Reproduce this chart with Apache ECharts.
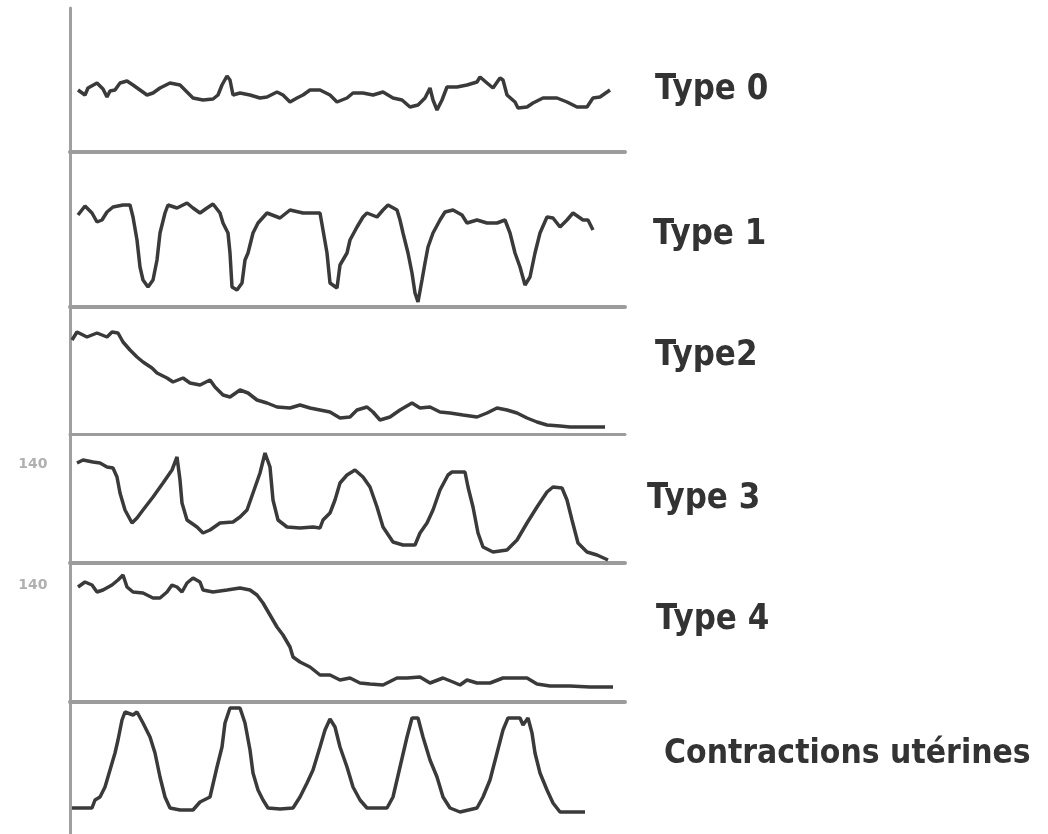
<!DOCTYPE html>
<html>
<head>
<meta charset="utf-8">
<script src="https://cdn.jsdelivr.net/npm/echarts@6/dist/echarts.min.js"></script>
<style>
html,body{margin:0;padding:0;background:#fff;}
#chart{width:1048px;height:834px;}
</style>
</head>
<body>
<div id="chart"></div>
<script>
// ---- data: [time, amplitude] ----
var type0 = [[8,62],[15,57],[18,64],[27,69],[33,63],[37,55],[40,61],[45,62],[50,69],[57,71],[63,67],[70,62],[77,57],[83,59],[90,64],[100,69],[110,67],[117,60],[123,54],[133,52],[143,53],[148,57],[152,67],[157,76],[160,72],[163,57],[170,59],[180,57],[190,54],[197,55],[207,60],[213,57],[220,50],[227,54],[233,57],[240,62],[250,62],[260,57],[267,50],[277,54],[283,59],[293,59],[303,57],[313,60],[323,54],[332,52],[340,45],[348,47],[355,54],[360,64],[363,52],[367,42],[372,52],[377,65],[387,65],[397,67],[407,70],[410,75],[417,69],[423,64],[430,74],[433,72],[437,57],[445,50],[448,44],[457,45],[463,49],[473,54],[487,54],[497,50],[507,45],[517,45],[523,54],[530,55],[540,62]];
var type1 = [[8,92],[15,101],[22,94],[27,85],[32,87],[37,95],[43,100],[53,102],[60,102],[63,90],[67,67],[70,40],[73,27],[78,20],[83,27],[87,47],[90,74],[95,94],[98,102],[107,99],[117,104],[123,99],[130,94],[137,99],[143,103],[150,94],[153,84],[158,74],[160,54],[162,20],[167,17],[172,24],[175,47],[178,54],[183,74],[188,84],[197,94],[210,89],[220,97],[233,94],[250,94],[253,77],[257,54],[260,24],[267,19],[270,42],[277,54],[280,67],[287,80],[293,90],[297,94],[307,90],[313,97],[318,102],[327,97],[330,87],[333,74],[338,54],[342,34],[345,14],[348,5],[352,27],[355,44],[358,60],[363,74],[370,87],[375,95],[383,97],[392,92],[397,84],[407,87],[417,84],[427,84],[435,87],[440,74],[445,54],[450,40],[455,22],[460,30],[465,54],[470,74],[477,90],[483,89],[490,80],[497,87],[503,94],[513,87],[518,87],[523,77]];
var type2 = [[2,94],[7,102],[17,97],[27,101],[37,97],[42,102],[48,101],[53,92],[60,84],[67,77],[73,72],[82,66],[87,61],[97,56],[103,52],[113,56],[120,51],[130,49],[140,54],[145,47],[153,39],[160,37],[170,44],[178,41],[187,34],[197,31],[207,27],[220,26],[230,29],[240,26],[250,24],[260,22],[270,16],[280,17],[287,24],[297,27],[303,22],[310,14],[320,17],[330,24],[342,31],[350,26],[360,27],[370,22],[380,21],[393,19],[407,17],[417,21],[427,26],[437,24],[447,21],[457,16],[467,12],[477,9],[490,8],[500,7],[513,7],[527,7],[535,7]];
var type3 = [[7,100],[13,103],[23,101],[30,100],[37,96],[43,95],[47,86],[50,70],[55,53],[62,40],[67,45],[73,53],[83,66],[93,80],[102,93],[107,106],[110,83],[112,60],[117,43],[127,36],[133,30],[140,33],[150,40],[163,41],[170,46],[177,53],[183,70],[190,90],[195,110],[200,96],[203,63],[208,43],[217,36],[230,35],[243,36],[250,35],[253,43],[260,50],[265,63],[270,80],[277,88],[285,93],[293,86],[300,76],[307,56],[313,36],[323,21],[333,18],[345,18],[350,30],[357,40],[363,53],[370,73],[378,88],[382,91],[395,91],[398,76],[403,56],[408,30],[413,16],[423,11],[437,13],[447,23],[457,40],[467,56],[477,71],[483,76],[492,75],[497,63],[502,43],[508,20],[517,11],[527,8],[538,3]];
var type4 = [[8,115],[15,120],[22,117],[27,110],[33,112],[42,117],[48,122],[53,127],[57,115],[63,110],[73,109],[83,104],[90,104],[97,110],[102,117],[107,115],[112,110],[117,119],[123,124],[130,120],[133,112],[143,110],[157,112],[170,114],[180,112],[187,107],[193,99],[200,87],[207,75],[213,67],[220,55],[223,45],[230,40],[240,35],[250,27],[260,27],[270,22],[280,24],[290,19],[300,18],[313,17],[327,24],[337,24],[350,25],[360,19],[373,24],[383,20],[390,17],[397,22],[407,19],[420,19],[433,24],[447,24],[457,24],[467,18],[480,16],[500,16],[520,15],[543,15]];
var contractions = [[2,26],[22,26],[25,34],[30,37],[35,47],[40,64],[45,81],[48,94],[52,114],[55,122],[63,119],[67,122],[73,111],[80,97],[85,81],[90,57],[95,37],[100,26],[110,24],[123,24],[130,32],[140,37],[147,67],[152,87],[155,111],[160,126],[170,126],[175,111],[180,84],[183,61],[188,44],[193,34],[198,26],[210,25],[223,26],[230,37],[237,51],[243,64],[250,87],[255,104],[260,115],[265,107],[270,87],[277,67],[283,47],[290,34],[297,26],[317,26],[323,37],[330,67],[337,97],[342,116],[348,116],[353,97],[360,74],[367,57],[373,37],[380,26],[390,22],[407,26],[413,37],[420,54],[427,81],[433,104],[438,116],[450,116],[453,109],[458,116],[462,101],[465,81],[470,61],[477,44],[483,31],[490,22],[515,22]];
var panelLabels = ['Type 0','Type 1','Type2','Type 3','Type 4','Contractions utérines'];
var tickLabels = ['140','140'];
var tickValues = [99, 117]; // level of the "140" mark in panels Type 3 and Type 4
// ------------------------------------------------

var seriesData = [type0, type1, type2, type3, type4, contractions];
var panels = [
  {top: 8,   height: 144, sepW: 4},
  {top: 152, height: 155, sepW: 4},
  {top: 307, height: 127, sepW: 3},
  {top: 434, height: 129, sepW: 4},
  {top: 563, height: 139, sepW: 4},
  {top: 702, height: 132, sepW: 0}
];
var labelPos = [
  {x: 655, y: 89.5, size: 31}, {x: 653, y: 234.5, size: 31}, {x: 655, y: 355.5, size: 31},
  {x: 647, y: 498.5, size: 31}, {x: 656, y: 619.5, size: 31}, {x: 664, y: 754.5, size: 30}
];
var GRID_LEFT = 70, GRID_W = 555;

var grids = [], xAxes = [], yAxes = [], series = [], graphics = [];
panels.forEach(function (p, i) {
  grids.push({left: GRID_LEFT, width: GRID_W, top: p.top, height: p.height});
  xAxes.push({
    type: 'value', gridIndex: i, min: 0, max: 555,
    axisLine: {show: p.sepW > 0, onZero: false, lineStyle: {color: '#9c9c9c', width: p.sepW}},
    axisTick: {show: false}, axisLabel: {show: false}, splitLine: {show: false}
  });
  yAxes.push({
    type: 'value', gridIndex: i, min: 0, max: p.height,
    axisLine: {show: true, lineStyle: {color: '#a0a0a0', width: 3}},
    axisTick: {show: false}, axisLabel: {show: false}, splitLine: {show: false}
  });
  series.push({
    type: 'line', xAxisIndex: i, yAxisIndex: i, data: seriesData[i],
    symbol: 'none', smooth: false, silent: true,
    lineStyle: {color: '#3a3a3a', width: 3.5}
  });
  graphics.push({
    type: 'text', x: labelPos[i].x, y: labelPos[i].y, scaleY: 1.12,
    style: {text: panelLabels[i], font: 'bold ' + labelPos[i].size + 'px "DejaVu Sans"',
      fill: '#333', verticalAlign: 'middle', align: 'left'}
  });
});

// "140" marks beside Type 3 and Type 4 panels
[3, 4].forEach(function (pi, k) {
  series.push({
    type: 'line', xAxisIndex: pi, yAxisIndex: pi, data: [], symbol: 'none',
    markPoint: {
      symbol: 'rect', symbolSize: 1, silent: true,
      itemStyle: {color: 'rgba(0,0,0,0)'},
      data: [{coord: [0, tickValues[k]], value: tickLabels[k]}],
      label: {show: true, position: 'left', distance: 22, formatter: tickLabels[k],
        color: '#b0b0b0', fontSize: 14, fontFamily: 'DejaVu Sans', fontWeight: 'bold'}
    }
  });
});

// faint scanned dotted line near the bottom
series.push({
  type: 'line', xAxisIndex: 5, yAxisIndex: 5, data: [], symbol: 'none',
  markLine: {
    silent: true, symbol: 'none', label: {show: false},
    lineStyle: {color: '#d0d0d0', type: 'dotted', width: 2},
    data: [[{coord: [10, 8]}, {coord: [570, 8]}]]
  }
});

var chart = echarts.init(document.getElementById('chart'), null, {renderer: 'canvas'});
chart.setOption({
  animation: false,
  backgroundColor: '#fff',
  grid: grids, xAxis: xAxes, yAxis: yAxes, series: series,
  graphic: graphics
});
</script>
</body>
</html>
